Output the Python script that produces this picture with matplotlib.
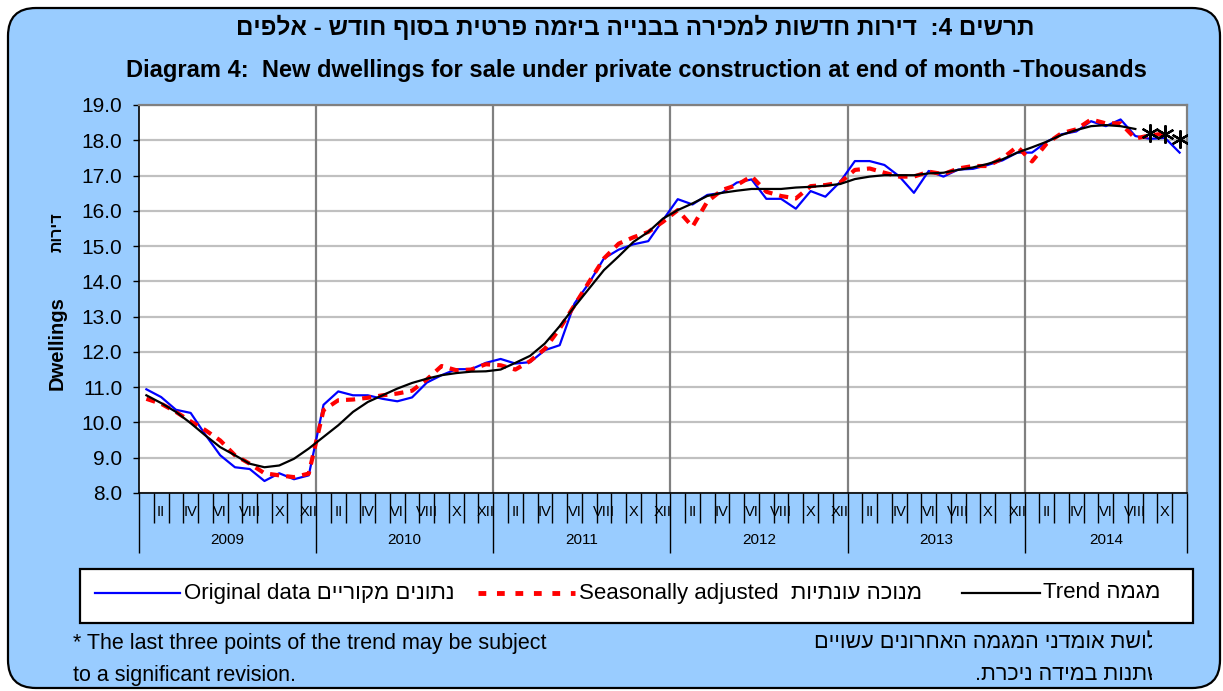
import numpy as np
import matplotlib
matplotlib.use("Agg")
import matplotlib.pyplot as plt
from matplotlib.patches import FancyBboxPatch, Rectangle
from matplotlib.lines import Line2D
from matplotlib.transforms import Bbox, blended_transform_factory
from matplotlib.ticker import FormatStrFormatter

plt.rcParams['font.family'] = ['Liberation Sans', 'DejaVu Sans']

# ---------------- data ----------------
years = ["2009", "2010", "2011", "2012", "2013", "2014"]
months_per_year = [12, 12, 12, 12, 12, 11]
month_labels = ["", "II", "", "IV", "", "VI", "", "VIII", "", "X", "", "XII"]

original = [10.94, 10.72, 10.36, 10.27, 9.65, 9.07, 8.73, 8.68, 8.34, 8.56, 8.39, 8.50,
            10.50, 10.88, 10.77, 10.77, 10.67, 10.60, 10.71, 11.13, 11.34, 11.51, 11.51, 11.69,
            11.80, 11.67, 11.71, 12.05, 12.19, 13.37, 13.96, 14.65, 14.90, 15.05, 15.14, 15.74,
            16.33, 16.18, 16.45, 16.51, 16.80, 16.89, 16.34, 16.34, 16.06, 16.56, 16.40, 16.82,
            17.41, 17.41, 17.30, 16.98, 16.51, 17.13, 16.97, 17.17, 17.19, 17.30, 17.43, 17.65,
            17.65, 17.96, 18.17, 18.25, 18.54, 18.40, 18.59, 18.12, 18.04, 18.07, 17.65]

seasonal = [10.67, 10.53, 10.30, 10.03, 9.78, 9.49, 9.07, 8.83, 8.56, 8.50, 8.45, 8.55,
            10.35, 10.63, 10.65, 10.70, 10.77, 10.82, 10.90, 11.22, 11.60, 11.48, 11.50, 11.65,
            11.62, 11.50, 11.74, 12.09, 12.66, 13.32, 13.99, 14.65, 15.07, 15.25, 15.40, 15.69,
            16.02, 15.55, 16.26, 16.59, 16.73, 16.98, 16.54, 16.42, 16.35, 16.70, 16.73, 16.80,
            17.16, 17.20, 17.08, 16.97, 16.97, 17.11, 17.04, 17.20, 17.27, 17.27, 17.49, 17.82,
            17.40, 17.91, 18.20, 18.31, 18.59, 18.48, 18.48, 18.05, 18.14, 18.19]

trend = [10.77, 10.55, 10.30, 9.98, 9.63, 9.30, 9.07, 8.83, 8.73, 8.78, 8.97, 9.26,
         9.59, 9.92, 10.30, 10.58, 10.77, 10.96, 11.12, 11.24, 11.34, 11.40, 11.44, 11.45,
         11.50, 11.69, 11.89, 12.24, 12.73, 13.28, 13.80, 14.32, 14.71, 15.12, 15.40, 15.78,
         16.02, 16.21, 16.42, 16.51, 16.57, 16.62, 16.62, 16.62, 16.66, 16.68, 16.71, 16.76,
         16.90, 16.97, 17.01, 17.01, 17.01, 17.06, 17.08, 17.16, 17.23, 17.33, 17.46, 17.65,
         17.80, 17.96, 18.15, 18.29, 18.40, 18.43, 18.40, 18.32]
trend_tail = [18.20, 18.17, 18.03]   # last three (provisional) trend points

title_he = "תרשים 4:  דירות חדשות למכירה בבנייה ביזמה פרטית בסוף חודש - אלפים"
title_en = "Diagram 4:  New dwellings for sale under private construction at end of month -Thousands"
ylabel_en = "Dwellings"
ylabel_he = "דירות"
leg_orig = ("Original data", "נתונים מקוריים")
leg_sa = ("Seasonally adjusted", "מנוכה עונתיות")
leg_trend = ("Trend", "מגמה")
note_en = ["* The last three points of the trend may be subject", "to a significant revision."]
note_he = [("* של", "ושת אומדני המגמה האחרונים עשויים"), ("להש", "תנות במידה ניכרת.")]


def heb(s):
    """logical Hebrew -> visual (left-to-right) order"""
    return s[::-1]


W, H = 1223, 691
fig = plt.figure(figsize=(W / 100, H / 100), dpi=100)
fig.patch.set_facecolor("white")

bg = FancyBboxPatch((0.08, 0.03), 12.12, 6.80, boxstyle="round,pad=0,rounding_size=0.28",
                    transform=fig.dpi_scale_trans, fc="#99CCFF", ec="black", lw=1.6, zorder=-10)
fig.add_artist(bg)


def fx(px):
    return px / W


def fy(py):
    return 1 - py / H


ax = fig.add_axes([fx(139), fy(493), fx(1187) - fx(139), fy(105) - fy(493)])
ax.set_facecolor("white")

n = len(original)
ax.plot(np.arange(n), original, color="#0000FF", lw=1.6, zorder=3)
ax.plot(np.arange(len(seasonal)), seasonal, color="#FF0000", lw=3.0, ls=(0, (2.2, 1.7)), zorder=4)
ax.plot(np.arange(len(trend)), trend, color="black", lw=1.6, zorder=5)
ax.plot(np.arange(len(trend), len(trend) + len(trend_tail)), trend_tail, ls="none",
        marker=(6, 2, 0), ms=13, mec="black", mew=1.6, zorder=6)

ax.set_xlim(-0.5, n - 0.5)
ax.set_ylim(8, 19)
ax.set_yticks(np.arange(8, 19.01, 1.0))
ax.yaxis.set_major_formatter(FormatStrFormatter("%.1f"))
ax.yaxis.grid(True, color="#C0C0C0", lw=1.6)
ax.set_axisbelow(True)

bounds = np.cumsum([0] + months_per_year) - 0.5
for b in bounds[1:-1]:
    ax.axvline(b, color="#808080", lw=1.6, zorder=1)

for s in ["left", "bottom"]:
    ax.spines[s].set_color("black")
    ax.spines[s].set_linewidth(1.2)
for s in ["top", "right"]:
    ax.spines[s].set_color("#808080")
    ax.spines[s].set_linewidth(1.6)

ax.set_xticks(bounds)
ax.set_xticks(np.arange(-0.5, n, 1.0), minor=True)
ax.tick_params(axis="x", which="major", length=43, width=1, color="black", labelbottom=False)
ax.tick_params(axis="x", which="minor", length=21.6, width=1, color="black", labelbottom=False)
ax.tick_params(axis="y", which="major", length=4.5, width=1, color="black", labelsize=15, pad=7.5)

tr = blended_transform_factory(ax.transData, ax.transAxes)
for i in range(n):
    lab = month_labels[i % 12]
    if lab:
        ax.text(i, -0.049, lab, transform=tr, ha="center", va="center", fontsize=10.5, clip_on=False)
for k, yr in enumerate(years):
    mid = (bounds[k] + bounds[k + 1]) / 2
    ax.text(mid, -0.121, yr, transform=tr, ha="center", va="center", fontsize=11)

# y labels
fig.text(fx(57), fy(343), ylabel_en, rotation=90, ha="center", va="center", fontsize=14.5, fontweight="bold")
fig.text(fx(57), fy(232), heb(ylabel_he), rotation=90, ha="center", va="center", fontsize=11.5, fontweight="bold")

# titles
fig.text(fx(635), fy(27), heb(title_he), ha="center", va="center", fontsize=17.5, fontweight="bold")
fig.text(fx(636), fy(71), title_en, ha="center", va="center", fontsize=17, fontweight="bold")

# legend box
fig.add_artist(Rectangle((fx(80), fy(623)), fx(1193) - fx(80), fy(569) - fy(623),
                         transform=fig.transFigure, fc="white", ec="black", lw=1.6))
ly = fy(593)
lfs = 16
fig.add_artist(Line2D([fx(95), fx(180)], [ly, ly], color="#0000FF", lw=1.6, transform=fig.transFigure))
fig.add_artist(Line2D([fx(478), fx(575)], [ly, ly], color="#FF0000", lw=3.5, ls=(0, (1.6, 2.2)),
                      transform=fig.transFigure))
fig.add_artist(Line2D([fx(962), fx(1040)], [ly, ly], color="black", lw=1.6, transform=fig.transFigure))
fig.text(fx(184), ly, leg_orig[0] + " " + heb(leg_orig[1]), ha="left", va="center", fontsize=lfs)
fig.text(fx(579), ly, leg_sa[0] + "  " + heb(leg_sa[1]), ha="left", va="center", fontsize=lfs)
fig.text(fx(1043), ly, leg_trend[0] + " " + heb(leg_trend[1]), ha="left", va="center", fontsize=lfs)

# footnotes
nfs = 15.5
fig.text(fx(73), fy(643), note_en[0], ha="left", va="center", fontsize=nfs)
fig.text(fx(73), fy(675), note_en[1], ha="left", va="center", fontsize=nfs)

renderer = fig.canvas.get_renderer()
clip = Bbox.from_extents(0, 0, 1152, H)
for (hidden, visible), py in zip(note_he, [643, 675]):
    tmp = fig.text(0, 0, heb(visible), fontsize=nfs)
    w = tmp.get_window_extent(renderer).width
    tmp.remove()
    t = fig.text(fx(1147 - w), fy(py), heb(hidden + visible), ha="left", va="center", fontsize=nfs)
    t.set_clip_box(clip)
    t.set_clip_on(True)

fig.savefig("out.png", dpi=100)
